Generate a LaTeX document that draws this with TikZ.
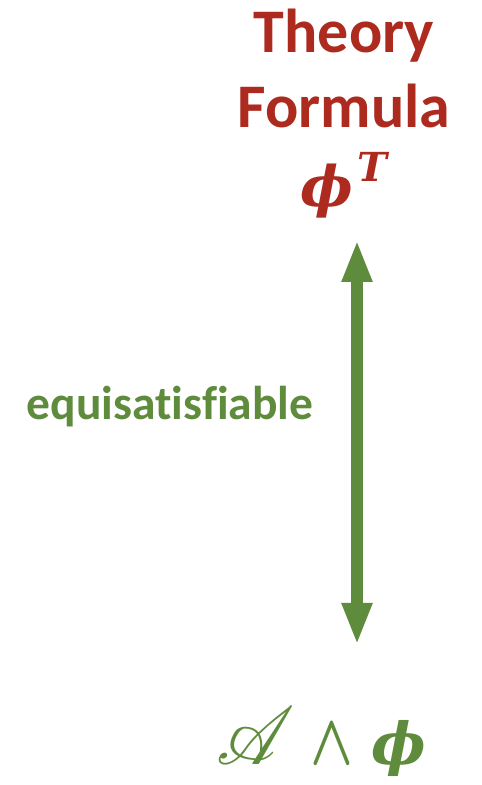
\documentclass[tikz,border=0pt]{standalone}
\usepackage{amsmath,bm}
\usepackage{graphicx}
\usepackage{mathrsfs}
\usepackage{fontspec}
\setmainfont{Carlito}[Ligatures=NoCommon]
\newfontfamily\phifont{DejaVu Serif}
\usetikzlibrary{arrows.meta}
\definecolor{thred}{HTML}{AD2A1F}
\definecolor{thgreen}{HTML}{5F8B3C}
\newcommand\scrA{\scalebox{7.6}[8.2]{$\mathscr{A}$}}
\tikzset{
  titletext/.style={text=thred, font=\fontsize{62}{75}\selectfont\bfseries, inner sep=0pt, anchor=base},
  mathred/.style={text=thred, inner sep=0pt, anchor=base},
  mathgreen/.style={text=thgreen, inner sep=0pt, anchor=base west},
  labeltext/.style={text=thgreen, font=\fontsize{47.5}{56}\selectfont\bfseries, inner sep=0pt, anchor=base},
  eqarrow/.style={draw=thgreen, line width=12pt, {Triangle[length=42pt,width=28pt]}-{Triangle[length=42pt,width=28pt]}}
}
\begin{document}
\begin{tikzpicture}[x=1pt,y=1pt]
\useasboundingbox (0,0) rectangle (482,785);
\node[titletext] (theory) at (344,732) {Theory};
\node[titletext] (formula) at (344,657) {Formula};
\node[mathred] (phiT) at (344,578) {\phifont\bfseries\itshape\fontsize{56}{60}\selectfont ϕ\hspace{4pt}\raisebox{25pt}{\fontsize{40}{44}\selectfont T}};
\node[labeltext] (equi) at (170,365) {equisatisfiable};
\node[mathgreen] (conj) at (216,20) {\scrA\hspace{16pt}\scalebox{5.6}[7.2]{$\bm{\wedge}$}\hspace{18pt}{\phifont\bfseries\itshape\fontsize{58}{62}\selectfont ϕ}};
\coordinate (arrtop) at (357,545);
\coordinate (arrbot) at (357,140);
\draw[eqarrow] (arrbot) -- (arrtop);
\end{tikzpicture}
\end{document}
